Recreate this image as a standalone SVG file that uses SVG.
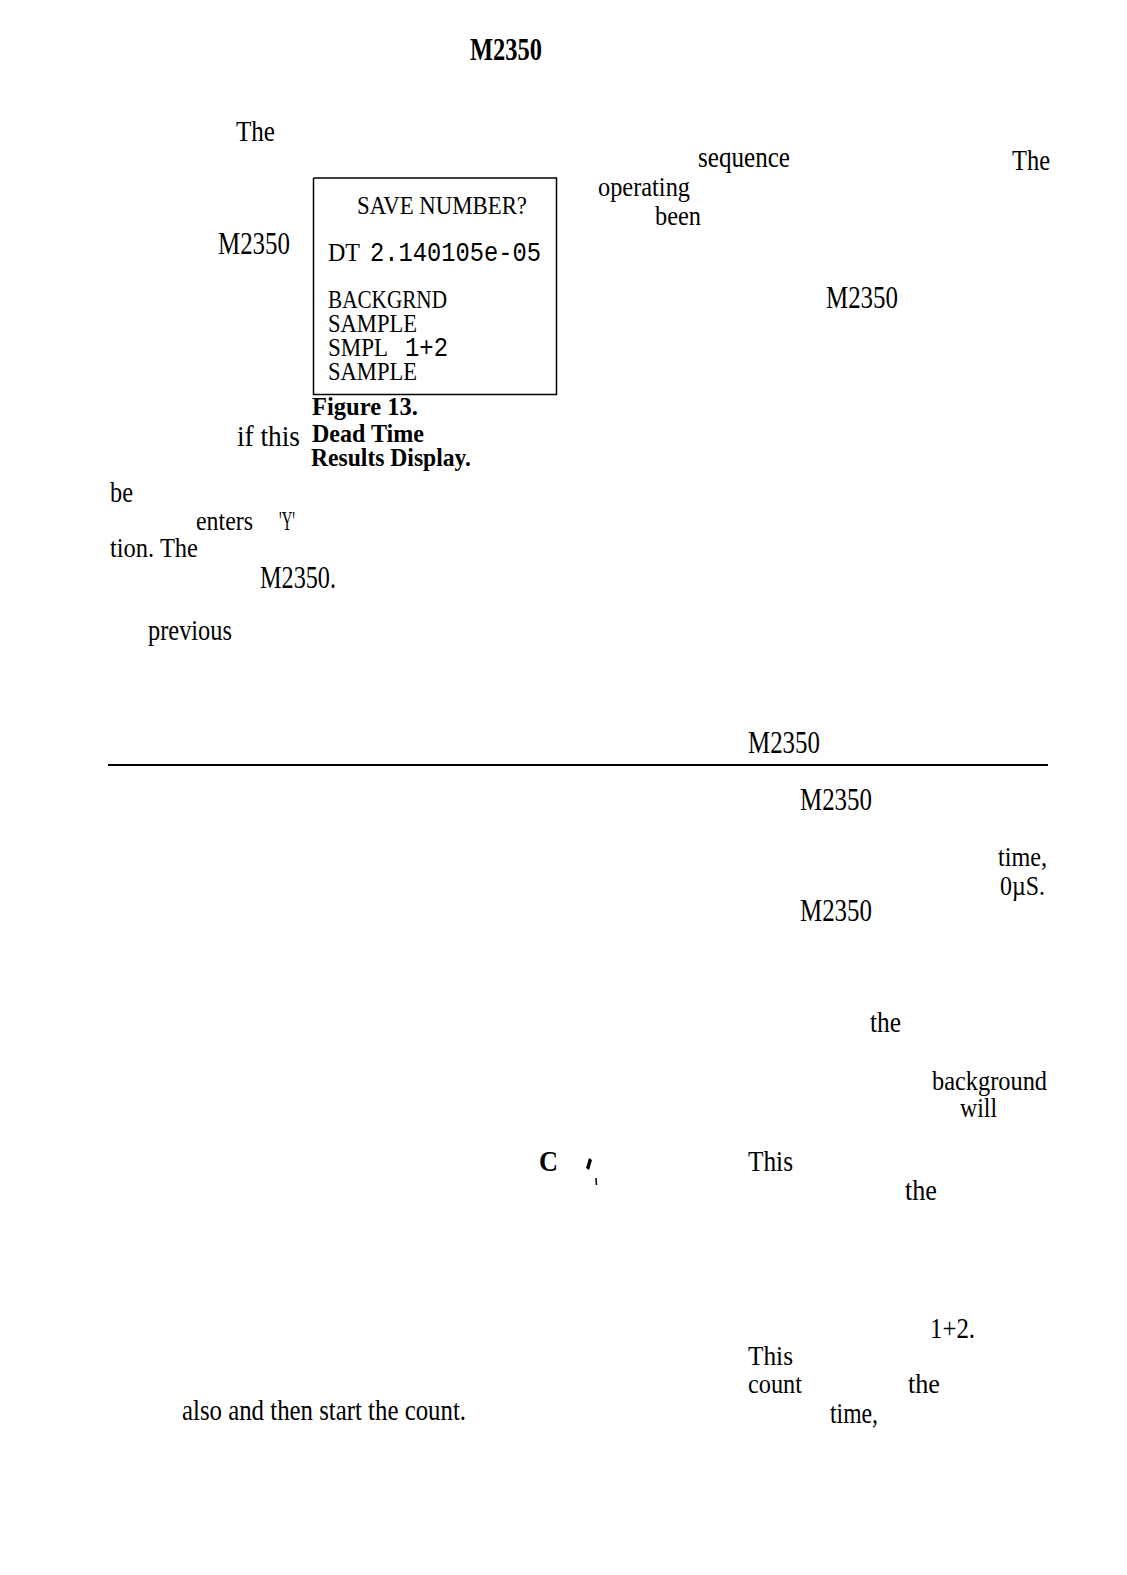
<svg xmlns="http://www.w3.org/2000/svg" width="1127" height="1575" viewBox="0 0 1127 1575">
<style>
.t{font-family:"Liberation Serif","Times New Roman",serif;font-size:30px;fill:#000}
.s{font-family:"Liberation Serif","Times New Roman",serif;font-size:27px;fill:#000}
.m{font-family:"Liberation Serif","Times New Roman",serif;font-size:32px;fill:#000}
.b{font-family:"Liberation Serif","Times New Roman",serif;font-size:25px;font-weight:bold;fill:#000}
.bx{font-family:"Liberation Serif","Times New Roman",serif;font-size:25px;fill:#000}
.mo{font-family:"Liberation Mono","Courier New",monospace;font-size:28px;fill:#000}
.ln{stroke:#000;stroke-width:1.5;fill:none}
</style>
<rect width="1127" height="1575" fill="#fff"/>
<g id="title"><text class="m" x="470" y="60" font-weight="bold" textLength="72" lengthAdjust="spacingAndGlyphs">M2350</text></g>
<g id="figure13">
<path class="ln" d="M313.5 178 V394.5 H556.5 V178 H313.5"/>
<text class="bx" x="357" y="214" textLength="170" lengthAdjust="spacingAndGlyphs">SAVE NUMBER?</text>
<text class="bx" x="328" y="261" textLength="32" lengthAdjust="spacingAndGlyphs">DT</text>
<text class="mo" x="370" y="261" textLength="171" lengthAdjust="spacingAndGlyphs">2.140105e-05</text>
<text class="bx" x="328" y="308" textLength="119" lengthAdjust="spacingAndGlyphs">BACKGRND</text>
<text class="bx" x="328" y="332" textLength="89" lengthAdjust="spacingAndGlyphs">SAMPLE</text>
<text class="bx" x="328" y="356" textLength="60" lengthAdjust="spacingAndGlyphs">SMPL</text>
<text class="mo" x="405" y="356" textLength="43" lengthAdjust="spacingAndGlyphs">1+2</text>
<text class="bx" x="328" y="380" textLength="89" lengthAdjust="spacingAndGlyphs">SAMPLE</text>
<text class="b" x="312" y="415" textLength="106" lengthAdjust="spacingAndGlyphs">Figure 13.</text>
<text class="b" x="312" y="442" textLength="112" lengthAdjust="spacingAndGlyphs">Dead Time</text>
<text class="b" x="311" y="466" textLength="160" lengthAdjust="spacingAndGlyphs">Results Display.</text>
</g>
<g id="left-column">
<text class="t" x="236" y="141" textLength="39" lengthAdjust="spacingAndGlyphs">The</text>
<text class="m" x="218" y="254" textLength="72" lengthAdjust="spacingAndGlyphs">M2350</text>
<text class="t" x="237" y="446" textLength="63" lengthAdjust="spacingAndGlyphs">if this</text>
<text class="t" x="110" y="502" textLength="23" lengthAdjust="spacingAndGlyphs">be</text>
<text class="s" x="196" y="530" textLength="57" lengthAdjust="spacingAndGlyphs">enters</text>
<text class="s" x="279" y="530" textLength="16" lengthAdjust="spacingAndGlyphs">'Y'</text>
<text class="s" x="110" y="557" textLength="88" lengthAdjust="spacingAndGlyphs">tion. The</text>
<text class="m" x="260" y="588" textLength="76" lengthAdjust="spacingAndGlyphs">M2350.</text>
<text class="t" x="148" y="640" textLength="84" lengthAdjust="spacingAndGlyphs">previous</text>
<text class="t" x="182" y="1420" textLength="284" lengthAdjust="spacingAndGlyphs">also and then start the count.</text>
</g>
<g id="right-column">
<text class="t" x="698" y="167" textLength="92" lengthAdjust="spacingAndGlyphs">sequence</text>
<text class="t" x="1012" y="170" textLength="38" lengthAdjust="spacingAndGlyphs">The</text>
<text class="s" x="598" y="196" textLength="92" lengthAdjust="spacingAndGlyphs">operating</text>
<text class="s" x="655" y="225" textLength="46" lengthAdjust="spacingAndGlyphs">been</text>
<text class="m" x="826" y="308" textLength="72" lengthAdjust="spacingAndGlyphs">M2350</text>
<text class="m" x="748" y="753" textLength="72" lengthAdjust="spacingAndGlyphs">M2350</text>
<text class="m" x="800" y="810" textLength="72" lengthAdjust="spacingAndGlyphs">M2350</text>
<text class="s" x="998" y="866" textLength="49" lengthAdjust="spacingAndGlyphs">time,</text>
<text class="s" x="1000" y="895" textLength="45" lengthAdjust="spacingAndGlyphs">0µS.</text>
<text class="m" x="800" y="921" textLength="72" lengthAdjust="spacingAndGlyphs">M2350</text>
<text class="t" x="870" y="1032" textLength="31" lengthAdjust="spacingAndGlyphs">the</text>
<text class="s" x="932" y="1090" textLength="115" lengthAdjust="spacingAndGlyphs">background</text>
<text class="s" x="960" y="1117" textLength="37" lengthAdjust="spacingAndGlyphs">will</text>
<text class="t" x="748" y="1171" textLength="45" lengthAdjust="spacingAndGlyphs">This</text>
<text class="t" x="905" y="1200" textLength="32" lengthAdjust="spacingAndGlyphs">the</text>
<text class="t" x="930" y="1338" textLength="45" lengthAdjust="spacingAndGlyphs">1+2.</text>
<text class="s" x="748" y="1365" textLength="45" lengthAdjust="spacingAndGlyphs">This</text>
<text class="s" x="748" y="1393" textLength="54" lengthAdjust="spacingAndGlyphs">count</text>
<text class="s" x="908" y="1393" textLength="32" lengthAdjust="spacingAndGlyphs">the</text>
<text class="t" x="830" y="1423" textLength="48" lengthAdjust="spacingAndGlyphs">time,</text>
</g>
<g id="marks">
<text class="t" x="539" y="1171" font-weight="bold" textLength="19" lengthAdjust="spacingAndGlyphs">C</text>
<path d="M589 1158 L592 1160 L589 1170 L586 1168 Z" fill="#000"/>
<path d="M596 1178 L596.5 1185" class="ln" stroke-width="1"/>
</g>
<g id="connectors">
<path d="M108 765 H1048" stroke="#000" stroke-width="2"/>
</g>
</svg>
